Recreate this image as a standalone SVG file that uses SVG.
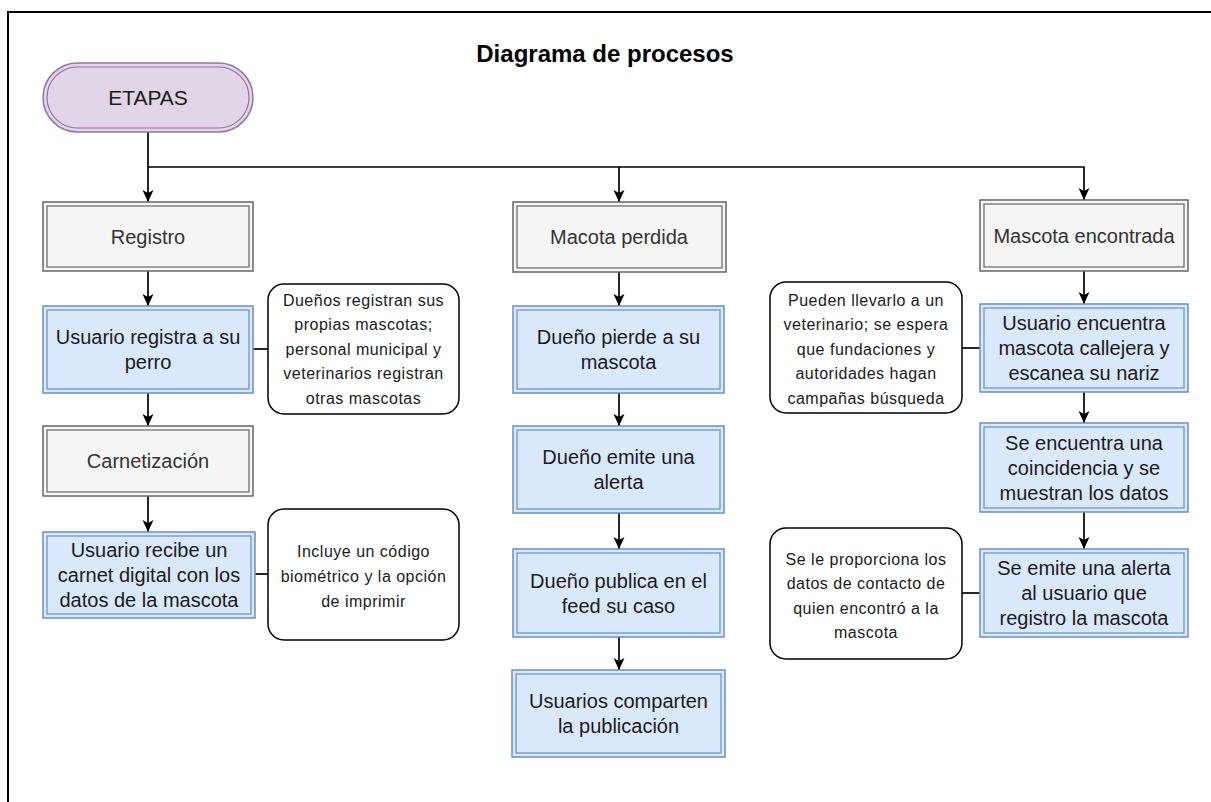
<svg xmlns="http://www.w3.org/2000/svg" width="1211" height="802" viewBox="0 0 1211 802">
  <defs>
    <marker id="arrow" markerWidth="14" markerHeight="14" viewBox="0 0 14 14" refX="13" refY="7" orient="auto" markerUnits="userSpaceOnUse">
      <path d="M1,1.5 L13,7 L1,12.5 L4,7 Z" fill="#000"/>
    </marker>
    <style>
      text { font-family: "Liberation Sans", Arial, sans-serif; text-anchor: middle; }
      .title { font-size: 24px; font-weight: bold; fill: #000; }
      .start-out { fill: #e1d5e7; stroke: #9673a6; stroke-width: 1.5; }
      .start-in { fill: none; stroke: #9673a6; stroke-width: 1.2; }
      .start-txt { font-size: 21px; fill: #1a1a1a; }
      .stage-out { fill: #f5f5f5; stroke: #666666; stroke-width: 1.5; }
      .stage-in { fill: none; stroke: #666666; stroke-width: 1.2; }
      .stage-txt { font-size: 20px; fill: #333333; }
      .step-out { fill: #dae8fc; stroke: #6c8ebf; stroke-width: 1.5; }
      .step-in { fill: none; stroke: #6c8ebf; stroke-width: 1.2; }
      .step-txt { font-size: 20px; fill: #1a1a1a; }
      .note { fill: #ffffff; stroke: #000; stroke-width: 1.5; }
      .note-txt { font-size: 16px; letter-spacing: 0.5px; fill: #1a1a1a; }
      .edge { fill: none; stroke: #000; stroke-width: 1.7; }
      .arrow { marker-end: url(#arrow); }
    </style>
  </defs>

  <!-- page frame -->
  <rect x="8" y="12" width="1300" height="900" fill="#ffffff" stroke="#000" stroke-width="2"/>

  <text class="title" x="605" y="62">Diagrama de procesos</text>

  <!-- connectors -->
  <g id="connectors">
    <path class="edge arrow" d="M148,132 V202"/>
    <path class="edge arrow" d="M148,167 H619 V202"/>
    <path class="edge arrow" d="M619,167 H1084 V200"/>

    <path class="edge arrow" d="M148,271 V306"/>
    <path class="edge arrow" d="M148,393 V426"/>
    <path class="edge arrow" d="M148,496 V532"/>

    <path class="edge arrow" d="M619,272 V306"/>
    <path class="edge arrow" d="M619,393 V426"/>
    <path class="edge arrow" d="M619,513 V549"/>
    <path class="edge arrow" d="M619,637 V670"/>

    <path class="edge arrow" d="M1084,271 V304"/>
    <path class="edge arrow" d="M1084,392 V423"/>
    <path class="edge arrow" d="M1084,512 V549"/>

    <path class="edge" d="M253,349 H268"/>
    <path class="edge" d="M255,574 H268"/>
    <path class="edge" d="M962,348 H980"/>
    <path class="edge" d="M962,593 H980"/>
  </g>

  <!-- start -->
  <g id="etapas">
    <rect class="start-out" x="43" y="63" width="210" height="69" rx="34.5"/>
    <rect class="start-in" x="47" y="67" width="202" height="61" rx="30.5"/>
    <text class="start-txt" x="148" y="105">ETAPAS</text>
  </g>

  <!-- column: Registro -->
  <g id="registro">
    <rect class="stage-out" x="43" y="202" width="210" height="69"/>
    <rect class="stage-in" x="47" y="206" width="202" height="61"/>
    <text class="stage-txt" x="148" y="243.5">Registro</text>
  </g>
  <g id="usuario-registra">
    <rect class="step-out" x="43" y="306" width="210" height="87"/>
    <rect class="step-in" x="47" y="310" width="202" height="79"/>
    <text class="step-txt" x="148" y="344">Usuario registra a su</text>
    <text class="step-txt" x="148" y="369">perro</text>
  </g>
  <g id="nota-registro">
    <rect class="note" x="268" y="284" width="191" height="130" rx="16"/>
    <text class="note-txt" x="363.5" y="305.5">Dueños registran sus</text>
    <text class="note-txt" x="363.5" y="330">propias mascotas;</text>
    <text class="note-txt" x="363.5" y="354.5">personal municipal y</text>
    <text class="note-txt" x="363.5" y="379">veterinarios registran</text>
    <text class="note-txt" x="363.5" y="403.5">otras mascotas</text>
  </g>
  <g id="carnetizacion">
    <rect class="stage-out" x="43" y="426" width="210" height="70"/>
    <rect class="stage-in" x="47" y="430" width="202" height="62"/>
    <text class="stage-txt" x="148" y="468">Carnetización</text>
  </g>
  <g id="usuario-recibe">
    <rect class="step-out" x="43" y="532" width="212" height="86"/>
    <rect class="step-in" x="47" y="536" width="204" height="78"/>
    <text class="step-txt" x="149" y="557">Usuario recibe un</text>
    <text class="step-txt" x="149" y="582">carnet digital con los</text>
    <text class="step-txt" x="149" y="607">datos de la mascota</text>
  </g>
  <g id="nota-carnet">
    <rect class="note" x="268" y="509" width="191" height="131" rx="16"/>
    <text class="note-txt" x="363.5" y="556.5">Incluye un código</text>
    <text class="note-txt" x="363.5" y="581.5">biométrico y la opción</text>
    <text class="note-txt" x="363.5" y="606.5">de imprimir</text>
  </g>

  <!-- column: Macota perdida -->
  <g id="macota-perdida">
    <rect class="stage-out" x="513" y="202" width="213" height="70"/>
    <rect class="stage-in" x="517" y="206" width="205" height="62"/>
    <text class="stage-txt" x="619" y="244">Macota perdida</text>
  </g>
  <g id="dueno-pierde">
    <rect class="step-out" x="513" y="306" width="211" height="87"/>
    <rect class="step-in" x="517" y="310" width="203" height="79"/>
    <text class="step-txt" x="618.5" y="344">Dueño pierde a su</text>
    <text class="step-txt" x="618.5" y="369">mascota</text>
  </g>
  <g id="dueno-emite">
    <rect class="step-out" x="513" y="426" width="211" height="87"/>
    <rect class="step-in" x="517" y="430" width="203" height="79"/>
    <text class="step-txt" x="618.5" y="464">Dueño emite una</text>
    <text class="step-txt" x="618.5" y="489">alerta</text>
  </g>
  <g id="dueno-publica">
    <rect class="step-out" x="513" y="549" width="211" height="88"/>
    <rect class="step-in" x="517" y="553" width="203" height="80"/>
    <text class="step-txt" x="618.5" y="587.5">Dueño publica en el</text>
    <text class="step-txt" x="618.5" y="612.5">feed su caso</text>
  </g>
  <g id="usuarios-comparten">
    <rect class="step-out" x="512" y="670" width="213" height="87"/>
    <rect class="step-in" x="516" y="674" width="205" height="79"/>
    <text class="step-txt" x="618.5" y="708">Usuarios comparten</text>
    <text class="step-txt" x="618.5" y="733">la publicación</text>
  </g>

  <!-- column: Mascota encontrada -->
  <g id="mascota-encontrada">
    <rect class="stage-out" x="980" y="200" width="208" height="71"/>
    <rect class="stage-in" x="984" y="204" width="200" height="63"/>
    <text class="stage-txt" x="1084" y="242.5">Mascota encontrada</text>
  </g>
  <g id="usuario-encuentra">
    <rect class="step-out" x="980" y="304" width="208" height="88"/>
    <rect class="step-in" x="984" y="308" width="200" height="80"/>
    <text class="step-txt" x="1084" y="330">Usuario encuentra</text>
    <text class="step-txt" x="1084" y="355">mascota callejera y</text>
    <text class="step-txt" x="1084" y="380">escanea su nariz</text>
  </g>
  <g id="nota-encuentra">
    <rect class="note" x="770" y="282" width="192" height="131" rx="16"/>
    <text class="note-txt" x="866" y="305.5">Pueden llevarlo a un</text>
    <text class="note-txt" x="866" y="330">veterinario; se espera</text>
    <text class="note-txt" x="866" y="354.5">que fundaciones y</text>
    <text class="note-txt" x="866" y="379">autoridades hagan</text>
    <text class="note-txt" x="866" y="403.5">campañas búsqueda</text>
  </g>
  <g id="coincidencia">
    <rect class="step-out" x="980" y="423" width="208" height="89"/>
    <rect class="step-in" x="984" y="427" width="200" height="81"/>
    <text class="step-txt" x="1084" y="449.5">Se encuentra una</text>
    <text class="step-txt" x="1084" y="474.5">coincidencia y se</text>
    <text class="step-txt" x="1084" y="499.5">muestran los datos</text>
  </g>
  <g id="se-emite-alerta">
    <rect class="step-out" x="980" y="549" width="208" height="88"/>
    <rect class="step-in" x="984" y="553" width="200" height="80"/>
    <text class="step-txt" x="1084" y="575">Se emite una alerta</text>
    <text class="step-txt" x="1084" y="600">al usuario que</text>
    <text class="step-txt" x="1084" y="625">registro la mascota</text>
  </g>
  <g id="nota-contacto">
    <rect class="note" x="770" y="528" width="192" height="131" rx="16"/>
    <text class="note-txt" x="866" y="564.5">Se le proporciona los</text>
    <text class="note-txt" x="866" y="589">datos de contacto de</text>
    <text class="note-txt" x="866" y="613.5">quien encontró a la</text>
    <text class="note-txt" x="866" y="638">mascota</text>
  </g>
</svg>
